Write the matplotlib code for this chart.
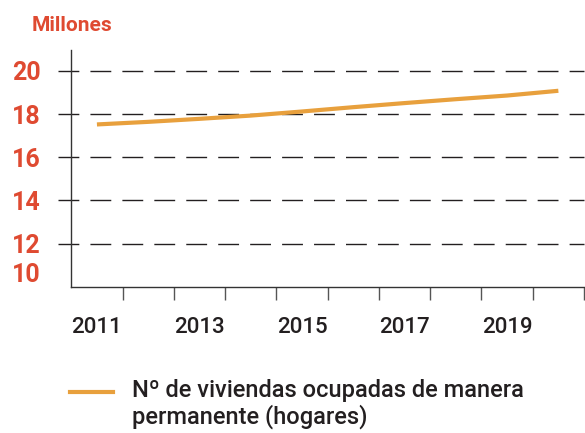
import matplotlib
matplotlib.use("Agg")
import matplotlib.pyplot as plt
from matplotlib.lines import Line2D
from matplotlib.ticker import FixedLocator

# data (millones de hogares)
years = [2011, 2012, 2013, 2014, 2015, 2016, 2017, 2018, 2019, 2020]
hogares = [17.52, 17.64, 17.78, 17.93, 18.12, 18.32, 18.51, 18.69, 18.86, 19.08]
label_years = [2011, 2013, 2015, 2017, 2019]
y_ticks = [10, 12, 14, 16, 18, 20]
grid_levels = [12, 14, 16, 18, 20]
legend_lines = ["Nº de viviendas ocupadas de manera", "permanente (hogares)"]

RED = "#df4a31"
ORANGE = "#e8a03d"
DARK = "#231f20"
W, H = 585, 433

plt.rcParams["font.family"] = ["Roboto", "DejaVu Sans"]
plt.rcParams["lines.scale_dashes"] = False

fig = plt.figure(figsize=(W / 100, H / 100), dpi=100)
ax = fig.add_axes([71.3 / W, 1 - 286.7 / H, (584 - 71.3) / W, (286.7 - 50) / H])

for g in grid_levels:
    ax.axhline(g, xmin=-0.026, xmax=1.0, color=DARK, lw=1.0,
               dashes=(15, 8), clip_on=False, zorder=1)

ax.plot(years, hogares, color=ORANGE, lw=3.0, solid_capstyle="butt", zorder=3)

ax.set_xlim(2010.5, 2020.5)
ax.set_ylim(10, 20.97)

for s in ("top", "right"):
    ax.spines[s].set_visible(False)
for s in ("left", "bottom"):
    ax.spines[s].set_color("#333333")
    ax.spines[s].set_linewidth(1.0)

# year labels centred on categories, tick marks at category boundaries
ax.set_xticks(label_years)
ax.set_xticklabels([str(y) for y in label_years], fontsize=16, fontweight="medium",
                   color=DARK)
ax.xaxis.set_minor_locator(FixedLocator([y + 0.5 for y in years]))
ax.tick_params(axis="x", which="major", length=0, pad=22)
ax.tick_params(axis="x", which="minor", length=9.5, width=1.0, color="#555555")

ax.set_yticks(y_ticks)
ax.set_yticklabels([str(v) for v in y_ticks], fontsize=18, fontweight="bold", color=RED)
ax.tick_params(axis="y", length=0, pad=22)
for lab in ax.get_yticklabels():
    if lab.get_text() == "10":
        lab.set_verticalalignment("bottom")
    else:
        lab.set_verticalalignment("center_baseline")

fig.text(32 / W, 1 - 31 / H, "Millones", fontsize=15, fontweight="bold",
         color=RED, ha="left", va="baseline")

# legend
fig.add_artist(Line2D([70 / W, 113 / W], [1 - 391.7 / H, 1 - 391.7 / H],
                      color=ORANGE, lw=3.0, transform=fig.transFigure))
fig.text(131.5 / W, 1 - 397 / H, legend_lines[0], fontsize=17, fontweight="medium",
         color=DARK, ha="left", va="baseline")
fig.text(131.5 / W, 1 - 424 / H, legend_lines[1], fontsize=17, fontweight="medium",
         color=DARK, ha="left", va="baseline")

fig.savefig("out.png", dpi=100)
